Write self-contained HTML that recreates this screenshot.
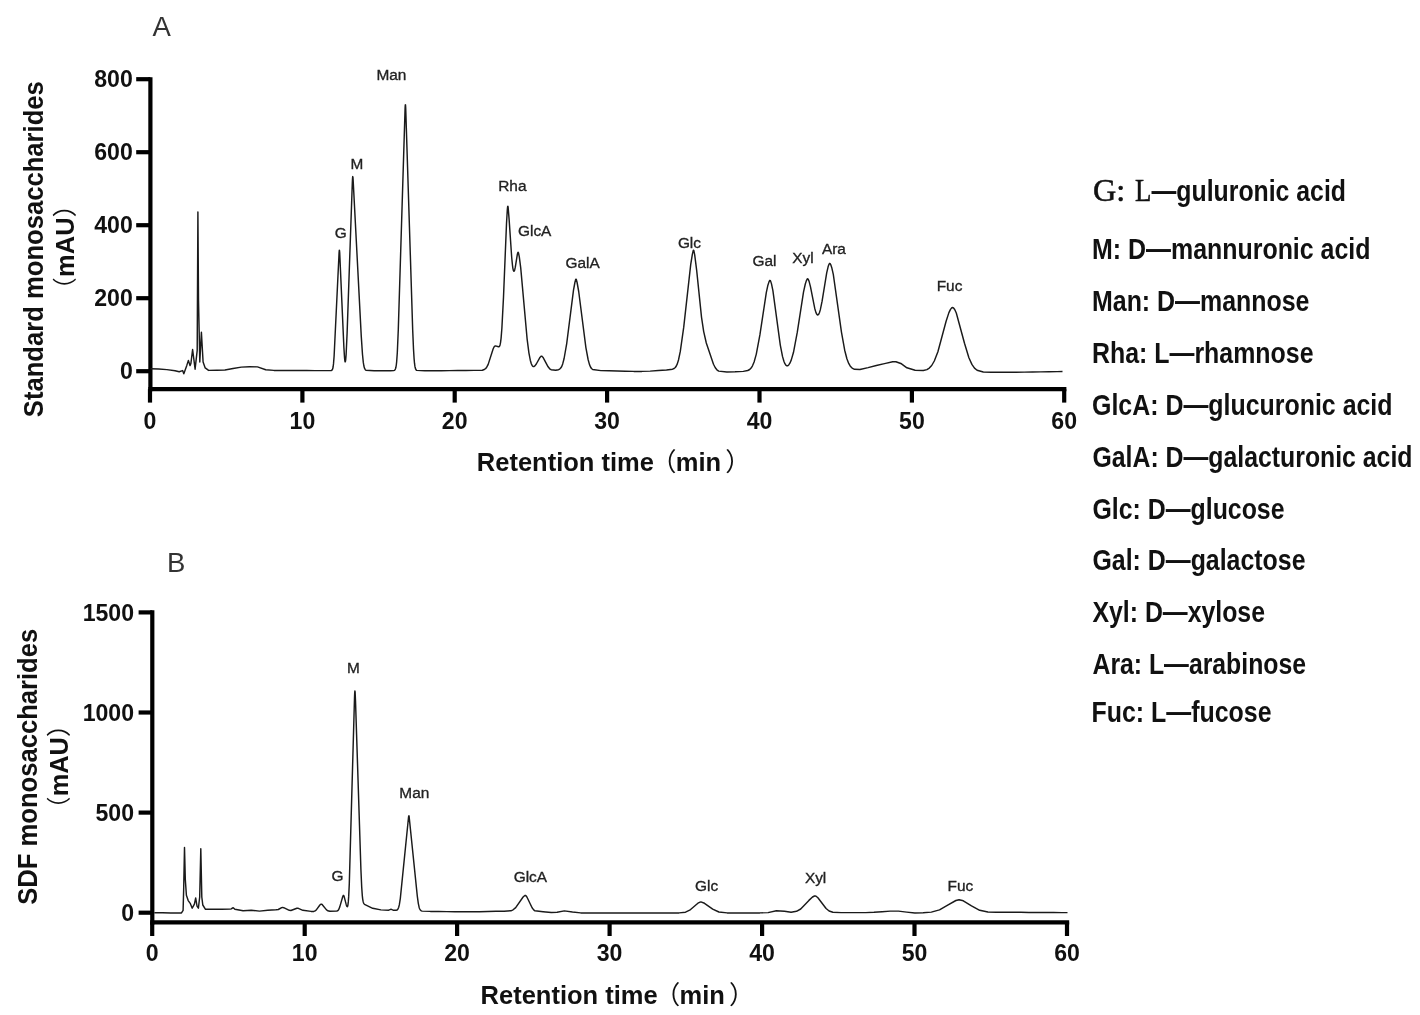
<!DOCTYPE html>
<html lang="en"><head><meta charset="utf-8"><title>Monosaccharide composition chromatograms</title>
<style>html,body{margin:0;padding:0;background:#fff}svg{display:block;filter:blur(0.45px)}</style></head>
<body>
<svg width="1420" height="1015" viewBox="0 0 1420 1015">
<rect width="1420" height="1015" fill="#fff"/>
<g stroke="#000" stroke-width="4.2" fill="none">
<path d="M150.4,77.2 V391.3"/>
<path d="M148.3,389.2 H1066.4"/>
<path d="M136.2,371.2 H150.4"/>
<path d="M136.2,298.2 H150.4"/>
<path d="M136.2,225.2 H150.4"/>
<path d="M136.2,152.2 H150.4"/>
<path d="M136.2,79.2 H150.4"/>
<path d="M150.0,389.2 V402.6"/>
<path d="M302.4,389.2 V402.6"/>
<path d="M454.7,389.2 V402.6"/>
<path d="M607.1,389.2 V402.6"/>
<path d="M759.5,389.2 V402.6"/>
<path d="M911.9,389.2 V402.6"/>
<path d="M1064.2,389.2 V402.6"/>
</g>
<g stroke="#000" stroke-width="4.2" fill="none">
<path d="M152.3,610.3 V924.4"/>
<path d="M150.20000000000002,922.3 H1069.2"/>
<path d="M138.6,912.7 H152.3"/>
<path d="M138.6,812.6 H152.3"/>
<path d="M138.6,712.5 H152.3"/>
<path d="M138.6,612.4 H152.3"/>
<path d="M152.2,922.3 V936"/>
<path d="M304.7,922.3 V936"/>
<path d="M457.1,922.3 V936"/>
<path d="M609.6,922.3 V936"/>
<path d="M762.1,922.3 V936"/>
<path d="M914.5,922.3 V936"/>
<path d="M1067.0,922.3 V936"/>
</g>
<path d="M150.5,368.8 L158.7,369.0 L166.9,369.6 L175.1,370.8 L179.2,371.7 L182.6,370.6 L183.8,373.8 L186.8,365.4 L188.4,360.4 L190.0,365.6 L190.9,363.5 L192.6,349.5 L195.1,369.2 L197.2,350.3 L197.9,211.9 L198.5,300.0 L199.8,362.0 L201.4,332.3 L203.1,362.0 L205.2,367.9 L208.6,370.4 L216.7,370.2 L224.9,370.0 L233.1,368.5 L241.3,367.1 L249.5,366.8 L257.5,366.9 L265.7,369.7 L273.9,370.4 L282.1,370.4 L290.3,370.5 L298.5,370.5 L306.7,370.5 L314.9,370.6 L323.1,370.6 L331.3,370.5 L331.9,370.2 L332.3,369.8 L332.7,368.8 L333.1,367.0 L333.5,363.9 L334.1,356.2 L339.1,252.3 L339.3,250.3 L339.5,250.5 L339.7,252.8 L343.9,347.5 L344.5,357.3 L344.7,359.5 L344.9,361.0 L345.1,361.8 L345.3,361.8 L345.5,361.1 L345.7,359.7 L346.1,354.7 L347.1,333.2 L352.3,183.2 L352.5,178.9 L352.7,176.6 L352.9,176.9 L353.1,179.3 L361.3,336.9 L362.5,354.5 L363.3,362.4 L363.9,366.0 L364.3,367.6 L364.7,368.7 L365.3,369.7 L365.9,370.2 L374.1,370.7 L382.3,370.7 L390.5,370.8 L393.7,370.6 L394.3,370.4 L394.7,370.1 L395.1,369.6 L395.5,368.8 L395.9,367.3 L396.3,365.0 L396.7,361.3 L397.3,352.7 L398.3,329.5 L405.1,108.1 L405.3,104.9 L405.5,104.8 L405.7,107.9 L412.7,330.2 L413.5,349.0 L414.1,358.8 L414.5,363.2 L414.9,366.2 L415.3,368.1 L415.7,369.2 L416.1,369.9 L416.7,370.4 L424.9,370.8 L433.1,370.8 L441.3,370.7 L449.5,370.6 L457.7,370.5 L465.9,370.5 L474.1,370.4 L482.3,370.2 L484.3,369.5 L485.5,368.7 L486.7,367.2 L488.1,364.6 L493.1,349.0 L493.9,347.2 L494.5,346.4 L494.9,346.1 L495.5,345.9 L498.5,346.8 L498.9,346.7 L499.3,346.5 L499.7,345.9 L500.1,344.7 L500.5,342.8 L501.1,338.1 L501.9,328.0 L503.5,297.1 L506.5,223.8 L507.3,210.0 L507.5,207.8 L507.7,206.4 L507.9,206.2 L508.1,207.1 L509.1,219.1 L511.7,257.5 L512.5,265.5 L512.9,268.3 L513.3,270.2 L513.5,270.7 L513.7,271.1 L513.9,271.3 L514.1,271.2 L514.3,270.9 L514.7,269.9 L515.3,267.2 L517.3,254.6 L517.7,252.9 L517.9,252.4 L518.1,252.2 L518.3,252.4 L518.5,253.0 L519.3,256.9 L520.7,267.6 L527.1,338.8 L528.9,352.8 L530.3,360.2 L531.3,363.7 L532.1,365.4 L532.7,366.2 L533.1,366.5 L533.5,366.6 L534.1,366.5 L534.9,365.9 L536.3,364.0 L539.7,357.8 L540.7,356.6 L541.3,356.2 L541.7,356.2 L542.3,356.6 L543.3,357.8 L548.1,366.8 L549.7,368.8 L551.1,369.7 L555.7,370.3 L558.5,369.7 L559.7,369.1 L560.7,368.1 L561.7,366.5 L562.7,363.9 L564.1,358.5 L566.7,343.6 L573.5,290.2 L574.9,282.5 L575.5,280.1 L575.7,279.5 L575.9,279.2 L576.1,279.2 L576.3,279.5 L577.1,282.5 L578.7,291.5 L585.9,347.6 L588.1,359.5 L589.5,364.6 L590.5,367.0 L591.5,368.5 L592.7,369.5 L600.9,370.6 L609.1,370.7 L617.3,371.0 L625.5,371.2 L633.7,371.4 L641.9,371.4 L650.1,371.1 L658.3,370.5 L666.5,370.0 L672.5,369.2 L674.1,368.5 L675.3,367.5 L676.3,366.0 L677.3,363.9 L678.5,360.0 L680.3,351.4 L683.7,327.4 L690.7,264.7 L692.3,254.7 L693.1,251.1 L693.3,250.5 L693.5,250.2 L693.7,250.3 L693.9,250.8 L694.7,254.8 L696.7,270.7 L701.5,317.1 L703.7,331.6 L706.3,343.0 L713.5,364.2 L715.3,367.8 L716.9,369.8 L718.7,371.1 L726.9,372.0 L735.1,371.8 L743.3,371.4 L747.7,370.5 L749.7,369.5 L751.1,368.1 L752.5,365.8 L754.1,362.0 L756.3,354.1 L759.9,334.9 L766.3,292.6 L767.9,285.2 L768.9,282.1 L769.5,280.8 L769.7,280.5 L769.9,280.4 L770.1,280.4 L770.3,280.6 L770.7,281.4 L771.5,283.9 L772.9,290.7 L780.3,345.1 L782.5,356.4 L783.9,361.3 L784.9,363.7 L785.7,364.9 L786.3,365.5 L786.9,365.7 L787.5,365.7 L788.1,365.5 L788.9,364.7 L789.9,363.2 L791.3,359.9 L793.5,352.3 L797.3,332.2 L803.5,292.2 L805.3,284.0 L806.3,280.9 L807.1,279.2 L807.3,278.9 L807.5,278.8 L807.7,278.8 L807.9,279.0 L808.3,279.5 L809.1,281.4 L810.5,286.9 L814.7,308.2 L815.9,312.4 L816.5,313.8 L817.1,314.6 L817.5,314.9 L817.9,314.9 L818.3,314.7 L818.7,314.2 L819.3,313.0 L820.3,309.9 L822.1,301.2 L826.7,272.8 L828.1,266.8 L828.9,264.5 L829.3,263.8 L829.5,263.5 L829.7,263.4 L829.9,263.4 L830.1,263.6 L830.7,264.6 L831.7,267.4 L833.3,274.4 L841.5,332.3 L844.7,350.2 L846.9,358.7 L848.7,363.4 L850.3,366.2 L852.1,368.1 L854.5,369.3 L859.9,369.5 L868.1,367.6 L876.3,365.5 L884.5,363.6 L892.7,361.8 L895.9,361.7 L901.5,363.8 L906.9,367.8 L915.1,370.2 L923.3,370.5 L926.9,369.6 L929.3,368.1 L931.7,365.5 L934.3,361.0 L937.9,351.7 L946.1,321.2 L948.9,312.6 L950.5,309.4 L951.5,308.1 L952.1,307.6 L952.5,307.5 L952.9,307.6 L953.7,308.2 L954.7,309.5 L956.3,313.0 L964.5,343.3 L968.9,357.8 L971.9,364.4 L974.5,368.1 L977.1,370.2 L983.3,372.0 L991.5,372.3 L999.7,372.3 L1007.9,372.2 L1016.1,372.2 L1024.3,372.1 L1032.5,372.0 L1040.7,371.9 L1048.9,371.7 L1057.1,371.6 L1062.5,371.5" fill="none" stroke="#1a1a1a" stroke-width="1.45" stroke-linejoin="round"/>
<path d="M154.3,912.7 L162.5,912.8 L170.7,912.9 L178.9,912.9 L181.5,912.9 L183.1,910.4 L183.7,888.2 L184.5,847.4 L185.3,879.3 L186.4,895.3 L188.2,900.6 L190.4,903.7 L192.2,908.2 L194.4,904.2 L195.7,898.0 L197.0,906.0 L198.4,908.2 L199.7,897.0 L200.8,848.7 L201.8,897.0 L202.8,905.0 L205.5,909.3 L213.7,909.3 L221.9,909.3 L230.1,909.1 L231.3,908.9 L232.7,907.9 L233.1,907.8 L233.5,907.9 L234.9,909.3 L243.1,910.7 L251.3,910.2 L259.5,911.1 L267.7,910.3 L275.9,909.8 L278.3,909.5 L281.7,907.6 L282.5,907.4 L283.7,907.7 L289.3,910.3 L290.9,910.5 L296.9,908.3 L298.3,908.3 L302.9,910.3 L311.1,911.4 L313.9,911.4 L315.1,910.9 L316.5,909.7 L319.9,905.0 L320.7,904.3 L321.1,904.1 L321.5,904.1 L322.3,904.7 L326.3,909.6 L327.7,910.7 L329.9,911.3 L336.7,911.1 L337.5,910.8 L338.1,910.4 L338.7,909.5 L339.7,907.1 L342.7,896.7 L343.1,895.8 L343.3,895.5 L343.5,895.4 L343.7,895.5 L344.1,896.4 L346.3,904.9 L346.7,906.0 L346.9,906.4 L347.1,906.6 L347.3,906.7 L347.5,906.5 L347.7,906.0 L347.9,905.1 L348.3,901.9 L348.7,896.4 L349.3,883.6 L354.5,697.9 L354.7,693.1 L354.9,690.9 L355.1,691.9 L355.5,700.7 L360.9,869.3 L361.7,887.0 L362.3,895.6 L362.7,899.1 L363.1,901.4 L363.5,902.7 L363.9,903.6 L364.5,904.3 L372.7,908.3 L380.9,909.9 L388.7,910.2 L390.7,909.3 L391.3,909.3 L393.7,910.3 L396.1,910.3 L396.9,910.1 L397.5,909.6 L398.1,908.8 L398.7,907.3 L399.3,904.9 L400.3,898.6 L408.5,817.5 L408.7,816.2 L408.9,815.7 L409.1,816.2 L417.3,896.1 L418.3,903.3 L419.1,907.2 L419.7,909.0 L420.3,910.0 L420.9,910.6 L422.1,911.1 L430.3,911.4 L438.5,911.5 L446.7,911.6 L454.9,911.7 L463.1,911.8 L471.3,911.8 L479.5,911.7 L487.7,911.5 L495.9,911.3 L504.1,911.2 L510.9,910.8 L513.1,909.8 L515.7,907.6 L523.1,897.0 L524.5,895.8 L525.1,895.4 L525.5,895.4 L525.9,895.7 L526.9,897.0 L532.1,907.8 L533.7,909.9 L534.9,910.8 L543.1,911.7 L551.3,912.5 L557.1,912.3 L564.3,910.9 L572.5,912.0 L580.7,912.9 L588.9,912.9 L597.1,912.9 L605.3,912.9 L613.5,912.9 L621.7,912.9 L629.9,912.9 L638.1,912.9 L646.3,912.9 L654.5,912.9 L662.7,912.9 L670.9,912.9 L679.1,912.9 L685.5,912.2 L689.7,910.2 L697.9,903.2 L700.1,902.1 L700.9,901.9 L704.5,903.3 L712.7,909.1 L718.9,912.0 L727.1,912.9 L735.3,912.9 L743.5,912.9 L751.7,912.9 L759.9,912.9 L768.1,912.6 L776.3,910.7 L784.5,911.3 L791.1,912.2 L796.5,911.3 L800.7,909.0 L808.9,900.4 L812.5,897.0 L814.5,896.0 L815.1,895.9 L816.1,896.2 L817.9,897.7 L826.1,908.5 L829.1,911.0 L832.9,912.3 L841.1,912.6 L849.3,912.6 L857.5,912.6 L865.7,912.6 L873.9,912.3 L882.1,911.7 L890.3,911.1 L898.5,911.1 L906.7,912.1 L914.9,913.0 L923.1,912.8 L931.3,912.1 L939.5,909.9 L947.7,905.2 L955.9,900.5 L959.1,899.7 L963.3,900.8 L971.5,905.8 L979.7,910.3 L987.9,912.0 L996.1,912.3 L1004.3,912.3 L1012.5,912.3 L1020.7,912.3 L1028.9,912.4 L1037.1,912.4 L1045.3,912.4 L1053.5,912.5 L1061.7,912.6 L1067.5,912.6" fill="none" stroke="#1a1a1a" stroke-width="1.45" stroke-linejoin="round"/>
<g font-family="'Liberation Sans', Arial, sans-serif" font-weight="700" font-size="23.1" fill="#111">
<text x="132.8" y="379.1" text-anchor="end">0</text>
<text x="132.8" y="306.1" text-anchor="end">200</text>
<text x="132.8" y="233.1" text-anchor="end">400</text>
<text x="132.8" y="160.1" text-anchor="end">600</text>
<text x="132.8" y="87.1" text-anchor="end">800</text>
<text x="150.0" y="428.6" text-anchor="middle">0</text>
<text x="302.4" y="428.6" text-anchor="middle">10</text>
<text x="454.7" y="428.6" text-anchor="middle">20</text>
<text x="607.1" y="428.6" text-anchor="middle">30</text>
<text x="759.5" y="428.6" text-anchor="middle">40</text>
<text x="911.9" y="428.6" text-anchor="middle">50</text>
<text x="1064.2" y="428.6" text-anchor="middle">60</text>
<text x="134.0" y="920.8" text-anchor="end">0</text>
<text x="134.0" y="820.7" text-anchor="end">500</text>
<text x="134.0" y="720.6" text-anchor="end">1000</text>
<text x="134.0" y="620.5" text-anchor="end">1500</text>
<text x="152.2" y="961.2" text-anchor="middle">0</text>
<text x="304.7" y="961.2" text-anchor="middle">10</text>
<text x="457.1" y="961.2" text-anchor="middle">20</text>
<text x="609.6" y="961.2" text-anchor="middle">30</text>
<text x="762.1" y="961.2" text-anchor="middle">40</text>
<text x="914.5" y="961.2" text-anchor="middle">50</text>
<text x="1067.0" y="961.2" text-anchor="middle">60</text>
</g>
<text x="476.8" y="470.9" font-family="'Liberation Sans', 'Noto Sans CJK SC', sans-serif" font-weight="700" font-size="25.5" fill="#111">Retention time<tspan font-weight="400" dx="-3">（</tspan><tspan dx="-0.6">min</tspan><tspan font-weight="400" dx="4">）</tspan></text>
<text x="480.6" y="1003.6" font-family="'Liberation Sans', 'Noto Sans CJK SC', sans-serif" font-weight="700" font-size="25.5" fill="#111">Retention time<tspan font-weight="400" dx="-3">（</tspan><tspan dx="-0.6">min</tspan><tspan font-weight="400" dx="4">）</tspan></text>
<text transform="translate(43.0,249.2) rotate(-90)" text-anchor="middle" textLength="336" lengthAdjust="spacingAndGlyphs" font-family="'Liberation Sans', Arial, sans-serif" font-weight="700" font-size="27.5" fill="#111">Standard monosaccharides</text>
<text transform="translate(73.7,247.2) rotate(-90)" font-family="'Liberation Sans', 'Noto Sans CJK SC', sans-serif" fill="#111"><tspan x="-54.5" font-weight="400" font-size="24.5">（</tspan><tspan x="-29.7" font-weight="700" font-size="26.5" textLength="59.5" lengthAdjust="spacingAndGlyphs">mAU</tspan><tspan x="30.0" font-weight="400" font-size="24.5">）</tspan></text>
<text transform="translate(37.0,766.8) rotate(-90)" text-anchor="middle" textLength="276" lengthAdjust="spacingAndGlyphs" font-family="'Liberation Sans', Arial, sans-serif" font-weight="700" font-size="27.5" fill="#111">SDF monosaccharides</text>
<text transform="translate(67.9,766.8) rotate(-90)" font-family="'Liberation Sans', 'Noto Sans CJK SC', sans-serif" fill="#111"><tspan x="-54.3" font-weight="400" font-size="24.5">（</tspan><tspan x="-29.5" font-weight="700" font-size="26.5" textLength="59.1" lengthAdjust="spacingAndGlyphs">mAU</tspan><tspan x="29.8" font-weight="400" font-size="24.5">）</tspan></text>
<g font-family="'Liberation Sans', Arial, sans-serif" font-size="27.5" fill="#333">
<text x="152.4" y="35.6">A</text>
<text x="167.0" y="571.8">B</text>
</g>
<g font-family="'Liberation Sans', Arial, sans-serif" font-size="14.0" fill="#222" stroke="#222" stroke-width="0.3">
<text x="376.4" y="80.4" textLength="30.0" lengthAdjust="spacingAndGlyphs">Man</text>
<text x="350.4" y="168.7" textLength="12.8" lengthAdjust="spacingAndGlyphs">M</text>
<text x="334.7" y="237.5" textLength="12.0" lengthAdjust="spacingAndGlyphs">G</text>
<text x="498.2" y="191.3" textLength="28.3" lengthAdjust="spacingAndGlyphs">Rha</text>
<text x="518.0" y="235.5" textLength="33.4" lengthAdjust="spacingAndGlyphs">GlcA</text>
<text x="565.5" y="268" textLength="34.2" lengthAdjust="spacingAndGlyphs">GalA</text>
<text x="677.9" y="248.3" textLength="23.1" lengthAdjust="spacingAndGlyphs">Glc</text>
<text x="752.5" y="266" textLength="24.0" lengthAdjust="spacingAndGlyphs">Gal</text>
<text x="792.2" y="263.4" textLength="21.4" lengthAdjust="spacingAndGlyphs">Xyl</text>
<text x="821.9" y="253.6" textLength="24.0" lengthAdjust="spacingAndGlyphs">Ara</text>
<text x="936.7" y="291.2" textLength="25.7" lengthAdjust="spacingAndGlyphs">Fuc</text>
<text x="346.9" y="672.9" textLength="12.8" lengthAdjust="spacingAndGlyphs">M</text>
<text x="399.3" y="797.7" textLength="30.0" lengthAdjust="spacingAndGlyphs">Man</text>
<text x="331.4" y="881.4" textLength="12.0" lengthAdjust="spacingAndGlyphs">G</text>
<text x="513.7" y="881.6" textLength="33.4" lengthAdjust="spacingAndGlyphs">GlcA</text>
<text x="695.1" y="890.7" textLength="23.1" lengthAdjust="spacingAndGlyphs">Glc</text>
<text x="804.9" y="883.3" textLength="21.4" lengthAdjust="spacingAndGlyphs">Xyl</text>
<text x="947.6" y="891.4" textLength="25.7" lengthAdjust="spacingAndGlyphs">Fuc</text>
</g>
<g font-family="'Liberation Sans', Arial, sans-serif" font-size="29.2" font-weight="700" fill="#111">
<text id="l2" x="1092.00" y="258.5" textLength="278.49" lengthAdjust="spacingAndGlyphs">M: D—mannuronic acid</text>
<text id="l3" x="1092.00" y="310.7" textLength="217.48" lengthAdjust="spacingAndGlyphs">Man: D—mannose</text>
<text id="l4" x="1092.00" y="363.0" textLength="221.50" lengthAdjust="spacingAndGlyphs">Rha: L—rhamnose</text>
<text id="l5" x="1092.00" y="414.8" textLength="300.51" lengthAdjust="spacingAndGlyphs">GlcA: D—glucuronic acid</text>
<text id="l6" x="1092.50" y="467.2" textLength="319.99" lengthAdjust="spacingAndGlyphs">GalA: D—galacturonic acid</text>
<text id="l7" x="1092.51" y="518.9" textLength="191.98" lengthAdjust="spacingAndGlyphs">Glc: D—glucose</text>
<text id="l8" x="1092.50" y="570.3" textLength="212.98" lengthAdjust="spacingAndGlyphs">Gal: D—galactose</text>
<text id="l9" x="1092.50" y="622.4" textLength="172.49" lengthAdjust="spacingAndGlyphs">Xyl: D—xylose</text>
<text id="l10" x="1092.50" y="674.4" textLength="213.49" lengthAdjust="spacingAndGlyphs">Ara: L—arabinose</text>
<text id="l11" x="1091.50" y="721.7" textLength="180.01" lengthAdjust="spacingAndGlyphs">Fuc: L—fucose</text>
<text id="l1b" x="1151.50" y="201.4" textLength="194.49" lengthAdjust="spacingAndGlyphs">—guluronic acid</text>
</g>
<text y="201.4" font-family="'Liberation Serif', 'Times New Roman', serif" font-size="32.2" fill="#111" stroke="#111" stroke-width="0.55"><tspan x="1092.9">G:</tspan><tspan x="1134.9" textLength="16.4" lengthAdjust="spacingAndGlyphs">L</tspan></text>
</svg>
</body></html>
